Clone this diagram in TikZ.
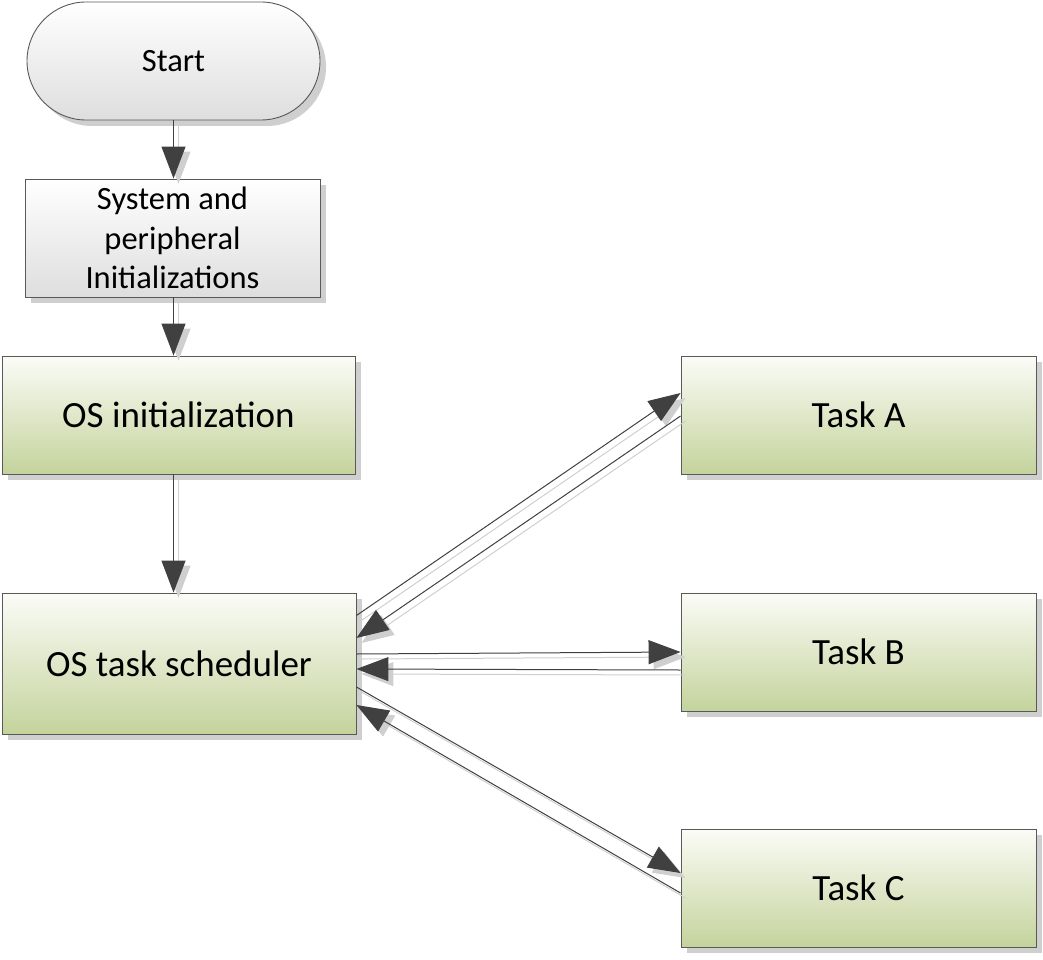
\documentclass[tikz,border=0pt]{standalone}
\usepackage{fontspec}
\setmainfont{Carlito}
\usetikzlibrary{shapes.misc,shadows,calc,arrows.meta}
\definecolor{edgegray}{HTML}{595959}
\definecolor{tipgray}{HTML}{404040}
\definecolor{shgray}{HTML}{CFCFCF}
\definecolor{greenbot}{HTML}{C4D39C}
\definecolor{greentop}{HTML}{FBFCF7}
\definecolor{graybot}{HTML}{DEDEDE}
\tikzset{
  boxshadow/.style={drop shadow={shadow xshift=6pt,shadow yshift=-6pt,fill=shgray,opacity=1}},
  greenbox/.style={rectangle,draw=edgegray,line width=0.9pt,top color=greentop,bottom color=greenbot,
    boxshadow,inner sep=0pt,align=center,font=\fontsize{37}{45}\selectfont},
  graybox/.style={rectangle,draw=edgegray,line width=0.9pt,top color=white,bottom color=graybot,
    boxshadow,inner sep=0pt,align=center,font=\fontsize{32.5}{39.7}\selectfont},
  termbox/.style={rounded rectangle,draw=edgegray,line width=0.9pt,top color=white,bottom color=graybot,
    boxshadow,inner sep=0pt,align=center,font=\fontsize{32.5}{39.7}\selectfont},
  conn/.style={draw=tipgray,line width=1pt,-{Triangle[length=32pt,width=24pt]}},
  connshadow/.style={draw=shgray,line width=1pt,-{Triangle[length=32pt,width=24pt]},
    transform canvas={xshift=5pt,yshift=-5pt}}
}
\newcommand{\linkarrow}[2]{\draw[connshadow] #1 -- #2; \draw[conn] #1 -- #2;}
\begin{document}
\begin{tikzpicture}[x=1pt,y=-1pt]
\useasboundingbox (0,0) rectangle (1043,960);
\node[termbox,minimum width=293pt,minimum height=118pt] (start) at (173.5,61) {Start};
\node[graybox,minimum width=295pt,minimum height=118pt] (sys) at (172.5,238) {System and\\peripheral\\Initializations};
\node[greenbox,minimum width=353pt,minimum height=118pt] (osinit) at (178.5,415) {OS initialization};
\node[greenbox,minimum width=354pt,minimum height=141pt] (sched) at (179,663.5) {OS task scheduler};
\node[greenbox,minimum width=355pt,minimum height=118pt] (taskA) at (858.5,415) {Task A};
\node[greenbox,minimum width=355pt,minimum height=118pt] (taskB) at (858.5,652) {Task B};
\node[greenbox,minimum width=355pt,minimum height=118pt] (taskC) at (858.5,888) {Task C};

\linkarrow{(start.south)}{(start.south |- sys.north)}
\linkarrow{(sys.south -| start.south)}{(osinit.north -| start.south)}
\linkarrow{(osinit.south -| start.south)}{(sched.north -| start.south)}

\linkarrow{($(sched.east)+(0,-48)$)}{($(taskA.west)+(0,-22)$)}
\linkarrow{($(taskA.west)+(0,1)$)}{($(sched.east)+(0,-25.5)$)}
\linkarrow{($(sched.east)+(0,-9.5)$)}{(taskB.west)}
\linkarrow{($(taskB.west)+(0,18)$)}{($(sched.east)+(0,5.5)$)}
\linkarrow{($(sched.east)+(0,23.5)$)}{($(taskC.west)+(0,-15)$)}
\linkarrow{($(taskC.west)+(0,5)$)}{($(sched.east)+(0,41.5)$)}
\end{tikzpicture}
\end{document}
